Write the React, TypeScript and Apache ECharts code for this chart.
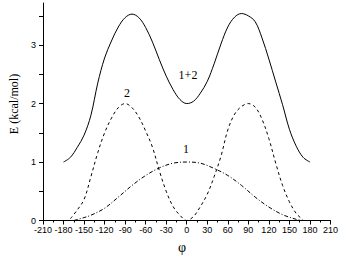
import React, { useEffect, useRef } from "react";
import * as echarts from "echarts";

const phiSum = [-180, -170, -160, -150, -140, -130, -120, -110, -100, -90, -80, -70, -60, -50, -40, -30, -20, -10, 0, 10, 20, 30, 40, 50, 60, 70, 80, 90, 100, 110, 120, 130, 140, 150, 160, 170, 180];
const eSum = [1.0, 1.08, 1.25, 1.46, 1.8, 2.35, 2.78, 3.07, 3.31, 3.47, 3.53, 3.47, 3.3, 3.05, 2.75, 2.47, 2.24, 2.07, 2.0, 2.04, 2.18, 2.38, 2.68, 3.02, 3.31, 3.48, 3.54, 3.5, 3.4, 3.12, 2.76, 2.37, 1.98, 1.56, 1.27, 1.08, 1.0];

const phi2 = [-170, -160, -150, -140, -130, -120, -110, -100, -90, -80, -70, -60, -50, -40, -30, -20, -10, 0, 10, 20, 30, 40, 50, 60, 70, 80, 90, 100, 110, 120, 130, 140, 150, 160, 170];
const e2 = [0.03, 0.18, 0.36, 0.75, 1.16, 1.5, 1.75, 1.93, 2.0, 1.93, 1.77, 1.53, 1.25, 0.85, 0.5, 0.24, 0.09, 0.0, 0.07, 0.24, 0.45, 0.75, 1.1, 1.55, 1.82, 1.95, 2.0, 1.94, 1.73, 1.4, 0.98, 0.6, 0.32, 0.12, 0.01];

const phi1 = [-165, -150, -140, -120, -100, -90, -80, -60, -40, -20, 0, 20, 40, 60, 80, 100, 120, 140, 160, 170];
const e1 = [0.0, 0.05, 0.09, 0.21, 0.4, 0.5, 0.6, 0.77, 0.9, 0.98, 1.0, 0.98, 0.89, 0.77, 0.6, 0.4, 0.23, 0.1, 0.02, 0.0];

const yTicks = [0, 0.5, 1, 1.5, 2, 2.5, 3, 3.5];
const yLabels = [0, 1, 2, 3];

const pairs = (xs: number[], ys: number[]) => xs.map((x, i) => [x, ys[i]]);

export default function App() {
  const ref = useRef<HTMLDivElement>(null);
  useEffect(() => {
    if (!ref.current) return;
    const chart = echarts.init(ref.current, null, { renderer: "svg" });
    const tickFont = { fontFamily: "Liberation Sans, Arial, sans-serif", fontSize: 9, color: "#000" };
    chart.setOption({
      animation: false,
      backgroundColor: "#fff",
      grid: { left: 43, right: 9, top: 3, bottom: 39.5 },
      xAxis: {
        type: "value",
        min: -210,
        max: 210,
        interval: 30,
        splitLine: { show: false },
        axisLine: { onZero: false, lineStyle: { color: "#000", width: 1 } },
        axisTick: { length: 4, lineStyle: { color: "#000" } },
        minorTick: { show: true, splitNumber: 2, length: 2, lineStyle: { color: "#000" } },
        axisLabel: { ...tickFont, margin: 5 },
      },
      yAxis: {
        type: "value",
        min: 0,
        max: 3.72,
        interval: 0.5,
        splitLine: { show: false },
        axisLine: { show: true, onZero: false, lineStyle: { color: "#000", width: 1 } },
        axisTick: { show: true, length: 4, customValues: yTicks, lineStyle: { color: "#000" } },
        axisLabel: { ...tickFont, margin: 7, customValues: yLabels },
      },
      series: [
        {
          type: "line",
          data: pairs(phiSum, eSum),
          smooth: 0.35,
          showSymbol: false,
          lineStyle: { color: "#000", width: 1 },
        },
        {
          type: "line",
          data: pairs(phi2, e2),
          smooth: 0.35,
          showSymbol: false,
          lineStyle: { color: "#000", width: 1, type: [3, 3] },
        },
        {
          type: "line",
          data: pairs(phi1, e1),
          smooth: 0.35,
          showSymbol: false,
          lineStyle: { color: "#000", width: 1, type: [4, 2, 1, 2] },
        },
      ],
      graphic: [
        { type: "text", x: 188, y: 75, style: { text: "1+2", font: "12px 'Liberation Serif', 'Times New Roman', serif", fill: "#000", align: "center", verticalAlign: "middle" } },
        { type: "text", x: 127, y: 93, style: { text: "2", font: "12px 'Liberation Serif', 'Times New Roman', serif", fill: "#000", align: "center", verticalAlign: "middle" } },
        { type: "text", x: 186, y: 149, style: { text: "1", font: "12px 'Liberation Serif', 'Times New Roman', serif", fill: "#000", align: "center", verticalAlign: "middle" } },
        { type: "text", x: 182, y: 247, style: { text: "φ", font: "14px 'Liberation Serif', 'Times New Roman', serif", fill: "#000", align: "center", verticalAlign: "middle" } },
        { type: "text", x: 14, y: 104, rotation: Math.PI / 2, style: { text: "E (kcal/mol)", font: "12px 'Liberation Serif', 'Times New Roman', serif", fill: "#000", align: "center", verticalAlign: "middle" } },
      ],
    });
    return () => chart.dispose();
  }, []);
  return <div ref={ref} style={{ width: 341, height: 260, position: "fixed", left: 0, top: 0 }} />;
}
